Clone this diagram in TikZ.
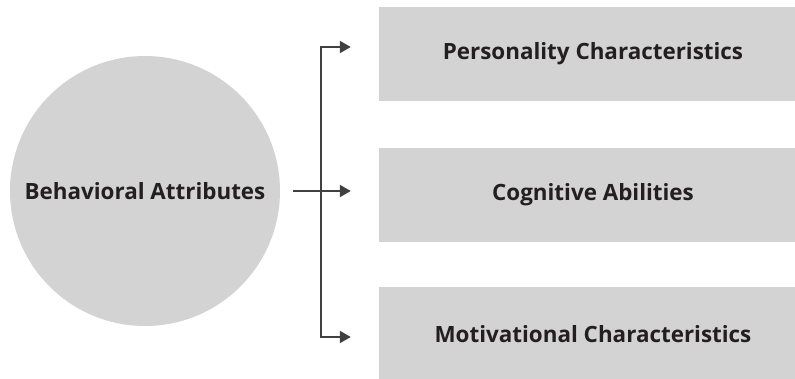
\documentclass[tikz,border=0pt]{standalone}
\usepackage{fontspec}
\setmainfont{Open Sans}
\usetikzlibrary{arrows.meta}
\definecolor{boxgray}{HTML}{D3D3D3}
\definecolor{txt}{HTML}{231F20}
\definecolor{linegray}{HTML}{404040}
\begin{document}
\begin{tikzpicture}[x=1pt,y=-1pt,
  lab/.style={font=\bfseries\fontsize{22.4}{26}\selectfont, text=txt},
  blob/.style={circle, fill=boxgray, minimum size=270pt, inner sep=0pt},
  box/.style={rectangle, fill=boxgray, minimum width=428pt, minimum height=94pt, inner sep=0pt},
  conn/.style={draw=linegray, line width=2pt},
  tip/.style={-{Triangle[length=11pt,width=12pt]}}]
\useasboundingbox (0,0) rectangle (795,378);
\clip (0,0) rectangle (795,378);
\node[blob, lab] (circ) at (145,191) {Behavioral Attributes};
\node[box, lab] (b1) at (593,54) {Personality Characteristics};
\node[box, lab] (b2) at (593,195) {Cognitive Abilities};
\node[box, lab] (b3) at (593,334) {Motivational Characteristics};
\coordinate (jn) at (321,191);
\draw[conn] ([xshift=13pt]circ.east) -- (jn);
\draw[conn,tip] (jn) -- ([xshift=-28pt]b2.west |- circ.east);
\draw[conn,tip] (jn) |- ([xshift=-28pt,yshift=7pt]b1.west);
\draw[conn,tip] (jn) |- ([xshift=-28pt,yshift=-3pt]b3.west);
\end{tikzpicture}
\end{document}
